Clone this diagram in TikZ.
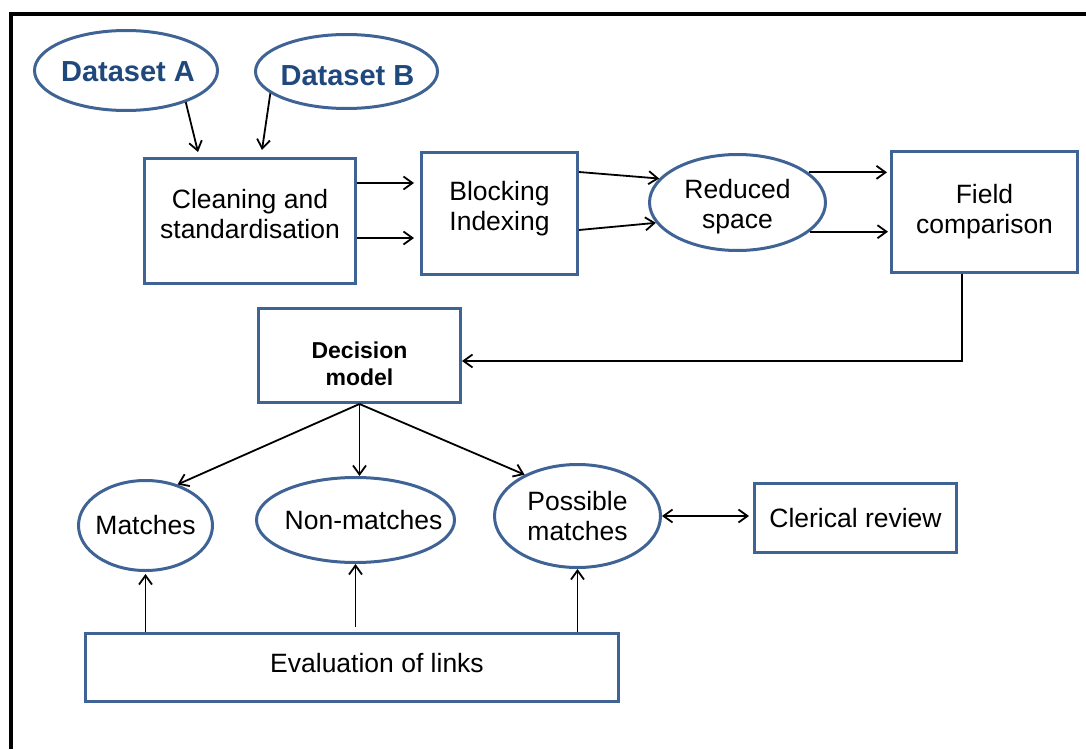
\documentclass[tikz,border=0pt]{standalone}
\usepackage{fontspec}
\setmainfont{Liberation Sans}
\usetikzlibrary{shapes.geometric,arrows.meta,calc}
\definecolor{bord}{HTML}{3F6394}
\definecolor{dsblue}{HTML}{1F497D}
\begin{document}
\begin{tikzpicture}[x=1pt,y=-1pt,
  box/.style={draw=bord,line width=3pt,rectangle,align=center,inner sep=0pt,font=\fontsize{26.5}{30}\selectfont},
  ell/.style={draw=bord,line width=3pt,ellipse,align=center,inner sep=0pt,font=\fontsize{26.5}{30}\selectfont},
  txt/.style={align=center,inner sep=0pt,font=\fontsize{26.5}{30}\selectfont},
  dstxt/.style={inner sep=0pt,font=\fontsize{29}{32}\selectfont\bfseries,text=dsblue},
  arr/.style={line width=1.8pt,-{Straight Barb[length=9pt,width=13pt]}},
  dbl/.style={line width=1.8pt,{Straight Barb[length=9pt,width=13pt]}-{Straight Barb[length=9pt,width=13pt]}},
  framebar/.style={line width=4.5pt,black}]
\useasboundingbox (0,0) rectangle (1086,749);
\draw[framebar] (11,749) -- (11,14) -- (1086,14);

\node[ell, minimum width=183pt, minimum height=80pt] (dsA) at (126,70.5) {};
\node[dstxt] (dsAT) at (128,72) {Dataset A};
\node[ell, minimum width=182pt, minimum height=74pt] (dsB) at (346.5,71.5) {};
\node[dstxt] (dsBT) at (347.5,76) {Dataset B};
\node[box, minimum width=211pt, minimum height=125pt] (clean) at (250,221) {};
\node[txt] (cleanT) at (250,214) {Cleaning and\\standardisation};
\node[box, minimum width=156pt, minimum height=122pt] (block) at (499.5,213.5) {};
\node[txt] (blockT) at (499.5,208.5) {Blocking\\Indexing};
\node[ell, minimum width=176pt, minimum height=96pt] (red) at (737.5,202.5) {};
\node[txt] (redT) at (737.5,206.5) {Reduced\\space};
\node[box, minimum width=186pt, minimum height=121pt] (field) at (984.5,212) {Field\\comparison};
\node[box, minimum width=202pt, minimum height=94pt] (dec) at (359.5,355.5) {};
\node[txt, font=\fontsize{23}{27}\selectfont\bfseries] (decT) at (359.5,363.5) {Decision\\model};
\node[ell, minimum width=134pt, minimum height=90pt] (match) at (145.5,525.5) {\makebox[0pt]{Matches}};
\node[ell, minimum width=198pt, minimum height=85pt] (nonm) at (355.5,520) {\makebox[0pt]{\hspace*{16pt}Non-matches}};
\node[ell, minimum width=166pt, minimum height=103pt] (poss) at (577.5,516) {Possible\\matches};
\node[box, minimum width=202pt, minimum height=69pt] (cler) at (855.5,518) {Clerical review};
\node[box, minimum width=533pt, minimum height=68pt] (eval) at (352,667) {};
\node[txt] (evalT) at (377,663) {Evaluation of links};

\draw[arr] (dsA.-28) -- ([xshift=-52pt,yshift=5pt]clean.north);
\draw[arr] (dsB.-164) -- ([xshift=12pt,yshift=7pt]clean.north);
\draw[arr] ([yshift=38pt]clean.east) -- ([xshift=-6pt,yshift=30.5pt]block.west);
\draw[arr] ([yshift=-17pt]clean.east) -- ([xshift=-6pt,yshift=-24.5pt]block.west);
\draw[arr] ([yshift=41.5pt]block.east) -- (red.163);
\draw[arr] ([yshift=-16.5pt]block.east) -- (red.-166);
\draw[arr, shorten >=3pt] (red.23) -- (red.23 -| field.west);
\draw[arr, shorten >=2pt] (red.-22) -- (red.-22 -| field.west);
\draw[arr] ([xshift=-22.5pt]field.south) |- ([yshift=-5.5pt]dec.east);
\draw[arr] (dec.south) -- (match.52);
\draw[arr] (dec.south) -- (dec.south |- nonm.north);
\draw[arr] (dec.south) -- (poss.142);
\draw[dbl, shorten >=4pt] (poss.east) -- (poss.east -| cler.west);
\draw[arr, shorten >=2pt] (match.south |- eval.north) -- (match.south);
\draw[arr, shorten <=5pt] (nonm.south |- eval.north) -- (nonm.south);
\draw[arr] (poss.south |- eval.north) -- (poss.south);
\end{tikzpicture}
\end{document}
